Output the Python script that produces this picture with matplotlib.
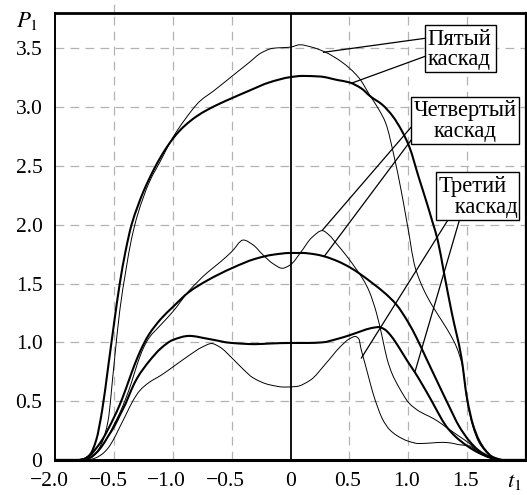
import matplotlib
matplotlib.use('Agg')
import matplotlib.pyplot as plt
import matplotlib.transforms as mtransforms
from matplotlib.patches import Rectangle, PathPatch
from matplotlib.path import Path

plt.rcParams['font.family'] = ['Liberation Serif', 'DejaVu Serif']
plt.rcParams['mathtext.fontset'] = 'stix'

# ---------------- data ----------------
x_ticks = [-2.0, -1.5, -1.0, -0.5, 0.0, 0.5, 1.0, 1.5]
x_tick_labels = ['\u22122.0', '\u22120.5', '\u22121.0', '\u22120.5', '0', '0.5', '1.0', '1.5']
y_ticks = [0, 0.5, 1.0, 1.5, 2.0, 2.5, 3.0, 3.5]
y_tick_labels = ['0', '0.5', '1.0', '1.5', '2.0', '2.5', '3.0', '3.5']

# fifth cascade, smooth (thick)
t5_thick_x = [-2.0, -1.8, -1.75, -1.7, -1.65, -1.6, -1.55, -1.5, -1.45, -1.4, -1.35, -1.3, -1.25, -1.2, -1.15,
              -1.1, -1.05, -1.0, -0.95, -0.9, -0.8, -0.7, -0.6, -0.5, -0.35, -0.18, 0.0, 0.1, 0.25, 0.4, 0.5,
              0.6, 0.68, 0.78, 0.87, 0.95, 1.01, 1.09, 1.15, 1.21, 1.25, 1.3, 1.37, 1.45, 1.5, 1.55, 1.6, 1.65,
              1.71, 1.76, 1.8, 2.0]
t5_thick_y = [0, 0, 0.01, 0.05, 0.17, 0.42, 0.78, 1.15, 1.5, 1.78, 2.0, 2.15, 2.28, 2.39, 2.49,
              2.58, 2.66, 2.73, 2.79, 2.84, 2.92, 2.98, 3.03, 3.075, 3.14, 3.21, 3.255, 3.265, 3.26, 3.23, 3.21,
              3.16, 3.09, 3.02, 2.92, 2.79, 2.66, 2.4, 2.21, 2.01, 1.87, 1.61, 1.25, 0.88, 0.52, 0.3, 0.17, 0.09,
              0.03, 0.01, 0, 0]

# fifth cascade, oscillating (thin)
t5_thin_x = [-2.0, -1.8, -1.75, -1.7, -1.65, -1.6, -1.55, -1.5, -1.45, -1.4, -1.35, -1.3, -1.2, -1.1, -1.0,
             -0.9, -0.77, -0.65, -0.5, -0.35, -0.25, -0.15, 0.0, 0.08, 0.18, 0.29, 0.44, 0.58, 0.68, 0.75,
             0.81, 0.88, 0.94, 0.98, 1.01, 1.05, 1.1, 1.16, 1.23, 1.3, 1.36, 1.41, 1.46, 1.5, 1.55, 1.6,
             1.65, 1.7, 1.75, 1.8, 2.0]
t5_thin_y = [0, 0, 0.005, 0.02, 0.06, 0.15, 0.33, 0.8, 1.27, 1.6, 1.88, 2.08, 2.36, 2.55, 2.74,
             2.89, 3.05, 3.14, 3.26, 3.38, 3.46, 3.5, 3.51, 3.53, 3.51, 3.47, 3.38, 3.25, 3.09, 2.98,
             2.86, 2.58, 2.29, 2.07, 1.9, 1.67, 1.52, 1.39, 1.27, 1.16, 1.06, 0.96, 0.8, 0.5, 0.28, 0.15,
             0.08, 0.03, 0.01, 0, 0]

# fourth cascade, smooth (thick)
t4_thick_x = [-2.0, -1.8, -1.75, -1.7, -1.65, -1.6, -1.55, -1.5, -1.45, -1.4, -1.35, -1.3, -1.25, -1.2, -1.1,
              -1.0, -0.86, -0.7, -0.5, -0.3, -0.15, 0.0, 0.1, 0.2, 0.29, 0.4, 0.5, 0.6, 0.7, 0.8, 0.9,
              1.0, 1.07, 1.15, 1.24, 1.35, 1.43, 1.52, 1.6, 1.71, 1.8, 2.0]
t4_thick_y = [0, 0, 0.01, 0.04, 0.1, 0.17, 0.26, 0.36, 0.47, 0.6, 0.74, 0.87, 0.98, 1.07, 1.2,
              1.3, 1.43, 1.53, 1.63, 1.71, 1.745, 1.76, 1.76, 1.75, 1.73, 1.69, 1.64, 1.575, 1.5, 1.42, 1.32,
              1.17, 1.04, 0.87, 0.68, 0.45, 0.29, 0.16, 0.08, 0.02, 0, 0]

# fourth cascade, oscillating (thin)
t4_thin_x = [-2.0, -1.8, -1.75, -1.7, -1.65, -1.6, -1.55, -1.5, -1.45, -1.4, -1.35, -1.3, -1.25, -1.2, -1.11,
             -1.0, -0.86, -0.71, -0.6, -0.5, -0.4, -0.32, -0.23, -0.15, -0.07, 0.0, 0.09, 0.18, 0.27, 0.33,
             0.39, 0.48, 0.56, 0.62, 0.67, 0.73, 0.78, 0.82, 0.86, 0.92, 1.01, 1.1, 1.18, 1.25, 1.32, 1.42,
             1.52, 1.6, 1.71, 1.8, 2.0]
t4_thin_y = [0, 0, 0.005, 0.02, 0.06, 0.12, 0.2, 0.3, 0.4, 0.52, 0.66, 0.82, 0.95, 1.04, 1.14,
             1.26, 1.44, 1.59, 1.68, 1.77, 1.87, 1.83, 1.74, 1.67, 1.63, 1.66, 1.77, 1.89, 1.95, 1.91,
             1.84, 1.73, 1.62, 1.53, 1.43, 1.25, 1.04, 0.86, 0.74, 0.62, 0.48, 0.41, 0.37, 0.33, 0.28, 0.21,
             0.14, 0.07, 0.02, 0, 0]

# third cascade, smooth (thick)
t3_thick_x = [-2.0, -1.8, -1.75, -1.7, -1.65, -1.6, -1.55, -1.5, -1.45, -1.4, -1.35, -1.3, -1.2, -1.1, -1.0,
              -0.86, -0.7, -0.5, -0.3, -0.18, 0.0, 0.15, 0.27, 0.4, 0.5, 0.6, 0.68, 0.75, 0.8, 0.85, 0.9,
              0.95, 1.0, 1.06, 1.12, 1.2, 1.26, 1.32, 1.4, 1.5, 1.6, 1.7, 1.8, 2.0]
t3_thick_y = [0, 0, 0.005, 0.02, 0.06, 0.12, 0.2, 0.28, 0.38, 0.48, 0.6, 0.7, 0.84, 0.95, 1.02,
              1.055, 1.03, 0.995, 0.985, 0.99, 0.995, 0.995, 1.0, 1.03, 1.06, 1.095, 1.12, 1.13, 1.11, 1.06, 0.99,
              0.91, 0.83, 0.74, 0.64, 0.5, 0.39, 0.29, 0.2, 0.12, 0.06, 0.02, 0, 0]

# third cascade, oscillating (thin)
t3_thin_x = [-2.0, -1.8, -1.7, -1.65, -1.6, -1.55, -1.5, -1.45, -1.4, -1.34, -1.28, -1.2, -1.1, -1.0, -0.86,
             -0.75, -0.67, -0.6, -0.49, -0.4, -0.32, -0.18, -0.05, 0.05, 0.17, 0.3, 0.42, 0.5, 0.55, 0.58,
             0.6, 0.63, 0.67, 0.7, 0.74, 0.78, 0.84, 0.9, 1.0, 1.09, 1.2, 1.29, 1.36, 1.43, 1.52, 1.6,
             1.7, 1.8, 2.0]
t3_thin_y = [0, 0, 0.005, 0.02, 0.05, 0.1, 0.18, 0.28, 0.38, 0.5, 0.59, 0.66, 0.72, 0.79, 0.89,
             0.96, 0.99, 0.96, 0.86, 0.77, 0.7, 0.64, 0.62, 0.625, 0.68, 0.82, 0.96, 1.03, 1.05, 1.03,
             0.94, 0.83, 0.68, 0.57, 0.45, 0.35, 0.26, 0.21, 0.16, 0.14, 0.145, 0.15, 0.145, 0.13, 0.12, 0.06,
             0.015, 0, 0]

labels = ['\u041f\u044f\u0442\u044b\u0439\n\u043a\u0430\u0441\u043a\u0430\u0434',
          '\u0427\u0435\u0442\u0432\u0435\u0440\u0442\u044b\u0439\n\u043a\u0430\u0441\u043a\u0430\u0434',
          '\u0422\u0440\u0435\u0442\u0438\u0439\n  \u2009\u043a\u0430\u0441\u043a\u0430\u0434']


def smooth_path(xs, ys):
    """Bezier path through the given points (shape-preserving tangents)."""
    n = len(xs)
    h = [xs[i + 1] - xs[i] for i in range(n - 1)]
    d = [(ys[i + 1] - ys[i]) / h[i] for i in range(n - 1)]
    m = [0.0] * n
    m[0], m[-1] = d[0], d[-1]
    for k in range(1, n - 1):
        if d[k - 1] * d[k] <= 0:
            m[k] = 0.0
        else:
            w1 = 2 * h[k] + h[k - 1]
            w2 = h[k] + 2 * h[k - 1]
            m[k] = (w1 + w2) / (w1 / d[k - 1] + w2 / d[k])
    verts = [(xs[0], ys[0])]
    codes = [Path.MOVETO]
    for i in range(n - 1):
        verts += [(xs[i] + h[i] / 3, ys[i] + m[i] * h[i] / 3),
                  (xs[i + 1] - h[i] / 3, ys[i + 1] - m[i + 1] * h[i] / 3),
                  (xs[i + 1], ys[i + 1])]
        codes += [Path.CURVE4] * 3
    return Path(verts, codes)


# ---------------- figure ----------------
fig = plt.figure(figsize=(5.27, 4.95), dpi=100)
ax = fig.add_axes([55 / 527, 35 / 495, 471 / 527, 447 / 495])
ax.set_xlim(-2.0, 2.0)
ax.set_ylim(0, 3.8)

grid_kw = dict(color='#b3b3b3', lw=0.9, ls=(0, (7, 5)), zorder=1)
for gx in [-1.5, -1.0, -0.5, 0.5, 1.0, 1.5]:
    ax.axvline(gx, **grid_kw)
for gy in [0.5, 1.0, 1.5, 2.0, 2.5, 3.0, 3.5]:
    ax.axhline(gy, **grid_kw)
ax.plot([-1.5, -1.5], [3.8, 3.92], clip_on=False, **grid_kw)
ax.axvline(0, color='black', lw=1.3, zorder=2)

thick = dict(facecolor='none', edgecolor='black', lw=1.5, zorder=3, joinstyle='round', capstyle='round')
thin = dict(facecolor='none', edgecolor='black', lw=0.7, zorder=3, joinstyle='round', capstyle='round')
for xs, ys, sty in [(t5_thick_x, t5_thick_y, thick), (t5_thin_x, t5_thin_y, thin),
                    (t4_thick_x, t4_thick_y, thick), (t4_thin_x, t4_thin_y, thin),
                    (t3_thick_x, t3_thick_y, thick), (t3_thin_x, t3_thin_y, thin)]:
    ax.add_patch(PathPatch(smooth_path(xs, ys), **sty))

ax.set_xticks(x_ticks)
ax.set_xticklabels(x_tick_labels)
ax.set_yticks(y_ticks)
ax.set_yticklabels(y_tick_labels)
ax.tick_params(length=0, labelsize=15.5, pad=9)
for lab in ax.get_xticklabels():
    txt = lab.get_text()
    dx = -6 if txt.startswith('\u2212') else (0 if txt == '0' else -2)
    lab.set_transform(lab.get_transform() + mtransforms.ScaledTranslation(dx / 100, 0, fig.dpi_scale_trans))

for side, w in [('left', 1.4), ('right', 1.6), ('top', 2.0), ('bottom', 2.2)]:
    ax.spines[side].set_linewidth(w)
    ax.spines[side].set_color('black')

# leader lines
lead = dict(color='black', lw=0.9, zorder=4)
ax.plot([1.144, 0.28], [3.585, 3.466], **lead)
ax.plot([1.144, 0.517], [3.432, 3.203], **lead)
ax.plot([1.025, 0.271], [2.83, 1.954], **lead)
ax.plot([1.025, 0.288], [2.72, 1.733], **lead)
ax.plot([1.331, 0.602], [2.031, 0.867], **lead)
ax.plot([1.432, 1.059], [2.031, 0.756], **lead)

# boxes
box_kw = dict(facecolor='white', edgecolor='black', lw=1.0, zorder=5)
ax.add_patch(Rectangle((1.144, 3.30), 0.602, 0.40, **box_kw))
ax.add_patch(Rectangle((1.025, 2.69), 0.915, 0.40, **box_kw))
ax.add_patch(Rectangle((1.237, 2.04), 0.703, 0.41, **box_kw))

fs = 16.3
ax.text(1.165, 3.49, labels[0], fontsize=fs, ha='left', va='center', multialignment='left',
        linespacing=0.98, zorder=6)
ax.text(1.483, 2.88, labels[1], fontsize=fs, ha='center', va='center', multialignment='center',
        linespacing=0.98, zorder=6)
ax.text(1.26, 2.235, labels[2], fontsize=fs, ha='left', va='center', multialignment='left',
        linespacing=0.98, zorder=6)

# axis labels
fig.text(27 / 527, 1 - 21 / 495, r'$P_1$', fontsize=16.5, ha='center', va='center')
fig.text(514 / 527, 1 - 482 / 495, r'$t_1$', fontsize=16.5, ha='center', va='center')

fig.savefig('out.png', dpi=100)
